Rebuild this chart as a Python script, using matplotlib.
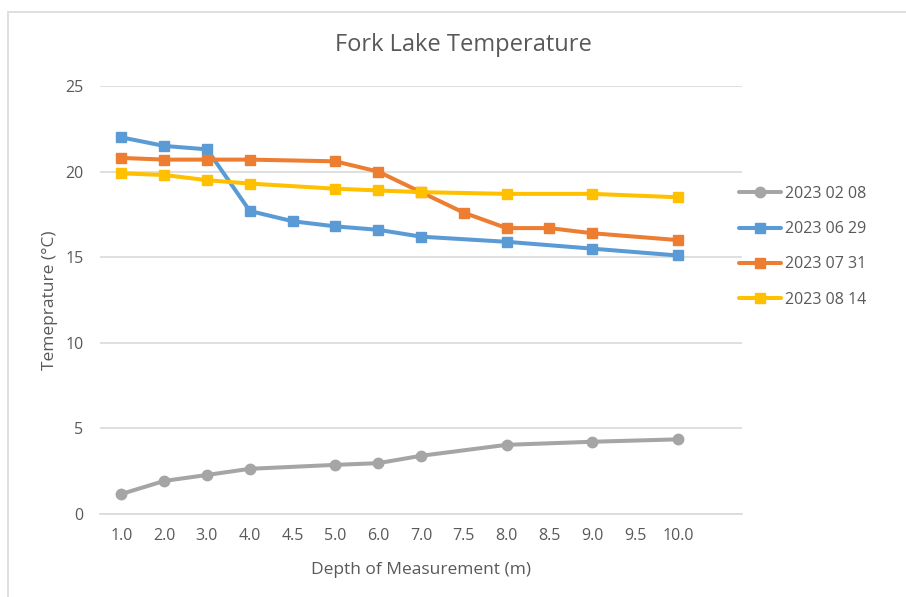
import numpy as np
import matplotlib.pyplot as plt
from matplotlib.patches import Rectangle

# depth categories (Excel category axis, one empty slot at the end)
depths = ['1.0', '2.0', '3.0', '4.0', '4.5', '5.0', '6.0', '7.0', '7.5',
          '8.0', '8.5', '9.0', '9.5', '10.0']

feb08 = [1.17, 1.93, 2.28, 2.64, None, 2.87, 2.97, 3.40, None, 4.04, None, 4.22, None, 4.36]
jun29 = [22.0, 21.5, 21.3, 17.7, 17.1, 16.8, 16.6, 16.2, None, 15.9, None, 15.5, None, 15.1]
jul31 = [20.8, 20.7, 20.7, 20.7, None, 20.6, 20.0, 18.8, 17.6, 16.7, 16.7, 16.4, None, 16.0]
aug14 = [19.9, 19.8, 19.5, 19.3, None, 19.0, 18.9, 18.8, None, 18.7, None, 18.7, None, 18.5]

series_names = ['2023 02 08', '2023 06 29', '2023 07 31', '2023 08 14']
colors = ['#A5A5A5', '#5B9BD5', '#ED7D31', '#FFC000']
markers = ['o', 's', 's', 's']

plt.rcParams['font.family'] = ['Open Sans', 'DejaVu Sans']
txt = '#595959'

fig = plt.figure(figsize=(9.06, 5.97), dpi=100)
ax = fig.add_axes([100 / 906, 1 - 514 / 597, 642 / 906, 428 / 597])

# thin chart border (only top/left visible in the crop)
fig.patches.append(Rectangle((8 / 906, -0.1), 1.2, 1 - 12 / 597 + 0.1,
                             transform=fig.transFigure, fill=False,
                             edgecolor='#D9D9D9', linewidth=1.2))

x = np.arange(len(depths))
for vals, name, c, m in zip([feb08, jun29, jul31, aug14], series_names, colors, markers):
    xs = [i for i, v in zip(x, vals) if v is not None]
    ys = [v for v in vals if v is not None]
    ax.plot(xs, ys, color=c, linewidth=2.9, marker=m, markersize=7.5,
            label=name, solid_capstyle='round')

ax.set_xlim(-0.5, len(depths) + 0.5)
ax.set_ylim(0, 25)
ax.set_yticks([0, 5, 10, 15, 20, 25])
ax.set_xticks(x)
ax.set_xticklabels(depths)
ax.tick_params(length=0, labelsize=11.5, colors=txt, pad=10)
ax.tick_params(axis='y', pad=12)
ax.grid(axis='y', color='#D9D9D9', linewidth=1.2)
ax.set_axisbelow(True)
for s in ['top', 'right', 'left']:
    ax.spines[s].set_visible(False)
ax.spines['bottom'].set_color('#D9D9D9')
ax.spines['bottom'].set_linewidth(1.2)

ax.set_xlabel('Depth of Measurement (m)', fontsize=12.5, color=txt, labelpad=13)
ax.set_ylabel('Temeprature (°C)', fontsize=12.5, color=txt, labelpad=5)
fig.text(463 / 906, 1 - 45 / 597, 'Fork Lake Temperature', fontsize=17,
         color=txt, ha='center', va='center')

leg = fig.legend(loc='upper left', bbox_to_anchor=(739 / 906, 1 - 186 / 597),
                 frameon=False, fontsize=11.5, handlelength=2.6,
                 labelspacing=1.2, handletextpad=0.25, borderaxespad=0,
                 borderpad=0)
for t in leg.get_texts():
    t.set_color(txt)

fig.savefig('out.png', dpi=100)
